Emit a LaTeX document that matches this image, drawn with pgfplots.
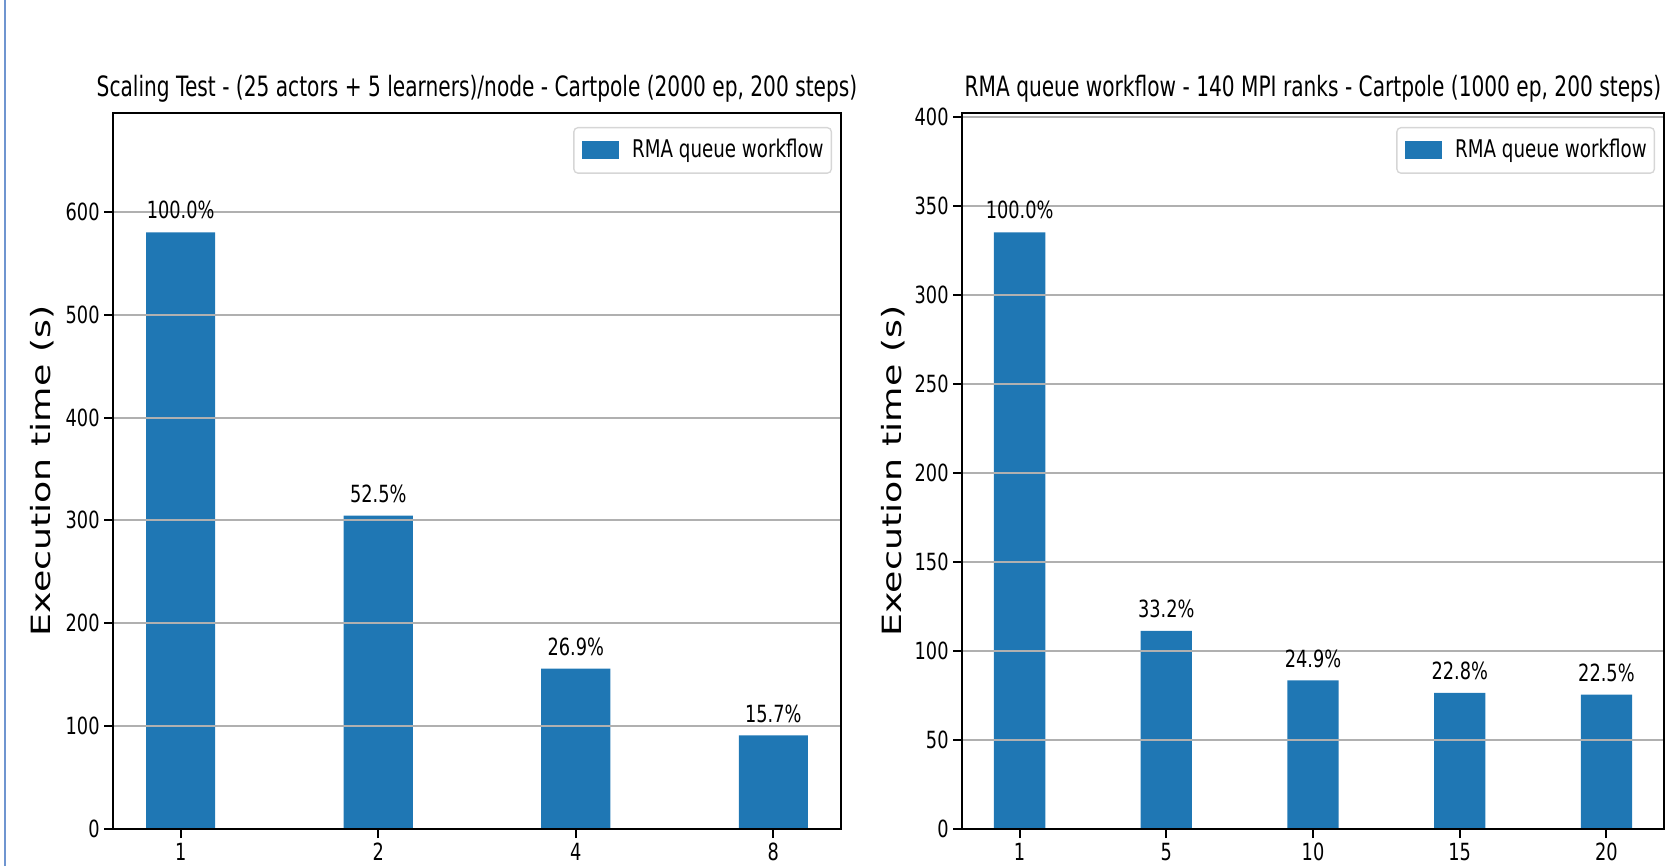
\documentclass[border=0pt]{standalone}
\usepackage{pgfplots}
\pgfplotsset{compat=1.18}
\usepackage{fontspec}
\usepackage{graphicx}
\setmainfont{DejaVu Sans}[FakeStretch=0.75]
\newfontfamily\titlefont{DejaVu Sans}[FakeStretch=0.72]
\newfontfamily\ylfont{DejaVu Sans}
\definecolor{barblue}{HTML}{1F77B4}
\definecolor{gridgray}{HTML}{B0B0B0}
\definecolor{edgeblue}{HTML}{6F95D0}
\definecolor{legframe}{HTML}{D6D6D6}

\pgfplotstableread{
x y p
0 580 100.0
1 304.5 52.5
2 156 26.9
3 91 15.7
}\lefttab
\pgfplotstableread{
x y p
0 335 100.0
1 111.2 33.2
2 83.4 24.9
3 76.4 22.8
4 75.4 22.5
}\righttab

\pgfplotsset{
 mystyle/.style={
  scale only axis,
  height=214.8pt,
  axis on top,
  ymin=0,
  ybar, bar width=0.35,
  ymajorgrids,
  grid style={gridgray, line width=0.6pt},
  axis line style={black, line width=0.7pt},
  tick pos=left, tick align=outside, major tick length=2.7pt,
  tick style={black, line width=0.6pt},
  /pgf/number format/assume math mode=true,
  ticklabel style={font=\fontsize{7.1}{8.5}\selectfont},
  xticklabel style={yshift=2.1pt},
  yticklabel style={xshift=2.2pt},
  title style={font=\titlefont\fontsize{8.4}{10}\selectfont, at={(0.5,1)}, anchor=base, yshift=-1.2pt},
  ylabel style={font=\ylfont\fontsize{10.9}{12}\selectfont, anchor=base},
  ylabel={\scalebox{1}[0.73]{Execution time (s)}},
  nodes near coords={\pgfmathprintnumber[fixed,fixed zerofill,precision=1]{\pgfplotspointmeta}\%},
  point meta=explicit,
  nodes near coords style={font=\fontsize{7.1}{8.5}\selectfont, anchor=base, yshift=4pt, text=black},
  legend style={at={(1,1)}, anchor=north east, xshift=-2.7pt, yshift=-4.2pt,
    draw=legframe, rounded corners=1.2pt, line width=0.4pt,
    font=\fontsize{7.3}{8.6}\selectfont, inner xsep=0.3pt, inner ysep=1.3pt},
  legend image code/.code={\path (-2.1pt,0) (13.1pt,0);
    \fill[barblue, sharp corners] (0pt,-2.7pt) rectangle (11pt,2.7pt);},
 }
}

\begin{document}
\begin{tikzpicture}
\clip (0,0) rectangle (502.8pt,259.8pt);
\draw[edgeblue, line width=0.6pt] (1.5pt,0) -- (1.5pt,259.8pt);

\begin{axis}[mystyle,
  at={(33.9pt,11.1pt)}, anchor=south west,
  width=218.4pt,
  xmin=-0.3425, xmax=3.3425,
  ymax=696,
  xtick={0,1,2,3}, xticklabels={1,2,4,8},
  ytick={0,100,200,300,400,500,600},
  title={Scaling Test - (25 actors + 5 learners)/node - Cartpole (2000 ep, 200 steps)},
  every axis y label/.append style={at={(axis description cs:-0.0865,0.5)}},
]
\addplot[fill=barblue, draw=none] table[x=x, y=y, meta=p] {\lefttab};
\addlegendentry{RMA queue workflow}
\end{axis}

\begin{axis}[mystyle,
  at={(288.6pt,11.1pt)}, anchor=south west,
  width=210.6pt,
  xmin=-0.3925, xmax=4.3925,
  ymax=402,
  xtick={0,1,2,3,4}, xticklabels={1,5,10,15,20},
  ytick={0,50,100,150,200,250,300,350,400},
  title={RMA queue workflow - 140 MPI ranks - Cartpole (1000 ep, 200 steps)},
  every axis y label/.append style={at={(axis description cs:-0.0855,0.5)}},
]
\addplot[fill=barblue, draw=none] table[x=x, y=y, meta=p] {\righttab};
\addlegendentry{RMA queue workflow}
\end{axis}
\end{tikzpicture}
\end{document}
